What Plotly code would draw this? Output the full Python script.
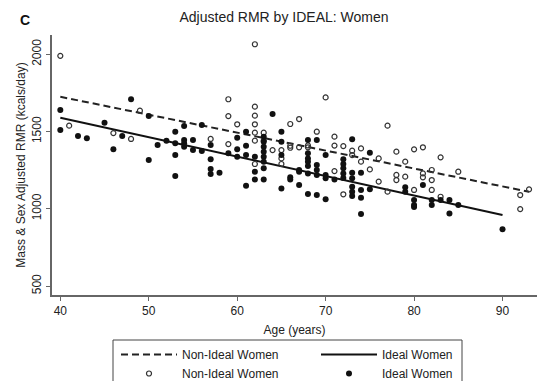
import plotly.graph_objects as go

# ---- data ----
nonideal_age = [40, 41, 46, 48, 49, 57, 59, 59, 59, 60,
                62, 62, 62, 62, 62, 62, 62, 63, 63, 64,
                65, 65, 65, 66, 66, 66, 67, 67, 68, 68,
                69, 70, 71, 71, 71, 72, 72, 73, 73, 74,
                74, 75, 76, 76, 77, 77, 78, 78, 78, 79,
                79, 80, 80, 81, 81, 81, 82, 82, 82, 83,
                83, 85, 92, 92, 93]
nonideal_rmr = [1990, 1538, 1490, 1452, 1635, 1452, 1709, 1600, 1419, 1547,
                2065, 1661, 1603, 1547, 1493, 1441, 1290, 1493, 1441, 1380,
                1380, 1326, 1290, 1549, 1395, 1408, 1581, 1398, 1398, 1410,
                1499, 1721, 1467, 1409, 1244, 1406, 1094, 1376, 1348, 1391,
                1305, 1255, 1326, 1176, 1538, 1111, 1370, 1219, 1186, 1305,
                1208, 1385, 1122, 1398, 1229, 1204, 1251, 1186, 1122, 1333,
                1078, 1240, 1089, 998, 1126]

ideal_age = [40, 40, 42, 43, 45, 46, 47, 48, 50, 50,
             51, 52, 53, 53, 53, 53, 54, 54, 54, 54,
             55, 55, 56, 56, 57, 57, 57, 57, 58, 59,
             60, 60, 60, 61, 61, 61, 61, 62, 62, 62,
             63, 63, 63, 63, 63, 63, 63, 63, 64, 65,
             65, 65, 65, 66, 66, 67, 67, 67, 68, 68,
             68, 68, 68, 68, 68, 69, 69, 69, 69, 69,
             70, 70, 70, 70, 71, 72, 72, 72, 72, 72,
             73, 73, 73, 73, 73, 73, 74, 74, 74, 74,
             75, 75, 79, 79, 80, 80, 80, 81, 82, 82,
             83, 84, 84, 85, 90]
ideal_rmr = [1639, 1510, 1471, 1456, 1557, 1385, 1471, 1709, 1600, 1316,
             1413, 1441, 1499, 1424, 1348, 1212, 1536, 1445, 1424, 1402,
             1445, 1380, 1542, 1374, 1413, 1320, 1258, 1226, 1234, 1359,
             1460, 1385, 1337, 1499, 1408, 1348, 1149, 1337, 1240, 1190,
             1467, 1434, 1402, 1370, 1337, 1305, 1262, 1190, 1613, 1499,
             1434, 1348, 1132, 1204, 1190, 1251, 1240, 1154, 1445, 1359,
             1326, 1305, 1277, 1229, 1096, 1445, 1283, 1251, 1218, 1089,
             1348, 1218, 1197, 1061, 1190, 1320, 1290, 1262, 1229, 1200,
             1450, 1234, 1197, 1143, 1111, 1083, 1234, 1122, 1072, 966,
             1363, 1126, 1139, 1111, 1057, 1024, 1011, 1154, 1057, 1024,
             1057, 1057, 970, 1024, 867]

# fitted lines (end points)
nonideal_fit_age = [40, 93]
nonideal_fit_rmr = [1725, 1110]
ideal_fit_age = [40, 90]
ideal_fit_rmr = [1590, 960]

x_ticks = [40, 50, 60, 70, 80, 90]
y_ticks = [500, 1000, 1500, 2000]

FONT = "Liberation Sans, Arial, Helvetica, sans-serif"
AXC = "#666666"

# plot-area geometry in pixels (for placing decorations)
L, R, T, B = 52, 5, 35, 86
W, H = 542, 381
PW, PH = W - L - R, H - T - B


def px_x(px):
    return (px - L) / PW


def px_y(py):
    return (H - B - py) / PH


fig = go.Figure()
fig.add_trace(go.Scatter(x=nonideal_fit_age, y=nonideal_fit_rmr, mode="lines",
                         name="Non-Ideal Women",
                         line=dict(color="#222222", width=2, dash="7px,4px")))
fig.add_trace(go.Scatter(x=ideal_fit_age, y=ideal_fit_rmr, mode="lines",
                         name="Ideal Women",
                         line=dict(color="#111111", width=2)))
fig.add_trace(go.Scatter(x=nonideal_age, y=nonideal_rmr, mode="markers",
                         name="Non-Ideal Women",
                         marker=dict(symbol="circle-open", size=5, color="#333333",
                                     line=dict(width=1.2, color="#333333"))))
fig.add_trace(go.Scatter(x=ideal_age, y=ideal_rmr, mode="markers",
                         name="Ideal Women",
                         marker=dict(symbol="circle", size=6, color="#111111")))

fig.update_layout(
    width=W, height=H,
    margin=dict(l=L, r=R, t=T, b=B, autoexpand=False),
    paper_bgcolor="white", plot_bgcolor="white",
    font=dict(family=FONT, size=12, color="#222222"),
    title=dict(text="Adjusted RMR by IDEAL: Women", x=284 / W, xanchor="center",
               y=1 - 17 / H, yanchor="middle", xref="container", yref="container",
               font=dict(size=14, color="#222222")),
    showlegend=True,
    legend=dict(orientation="h", x=px_x(116), xanchor="left", y=px_y(340), yanchor="top",
                bgcolor="rgba(0,0,0,0)", borderwidth=0, entrywidth=129,
                entrywidthmode="pixels", itemwidth=56,
                font=dict(size=12, color="#222222"), traceorder="normal"),
    annotations=[dict(text="<b>C</b>", x=px_x(25), y=px_y(20), xref="paper", yref="paper",
                      showarrow=False, xanchor="center", yanchor="middle",
                      font=dict(size=14, color="#111111"))],
    shapes=[dict(type="rect", xref="paper", yref="paper",
                 x0=px_x(113), x1=px_x(462), y0=px_y(395), y1=px_y(340),
                 line=dict(color="#444444", width=1), fillcolor="rgba(0,0,0,0)",
                 layer="above")],
)

fig.update_xaxes(range=[39.06, 93.9], tickvals=x_ticks, ticks="outside", ticklen=4,
                 tickcolor=AXC, showline=True, linecolor=AXC, linewidth=1.5,
                 showgrid=False, zeroline=False, tickfont=dict(size=12), automargin=False,
                 title=dict(text="Age (years)", standoff=8, font=dict(size=12)))
fig.update_yaxes(range=[442, 2125], tickvals=y_ticks, ticks="outside", ticklen=4,
                 tickcolor=AXC, showline=True, linecolor=AXC, linewidth=1.5,
                 showgrid=False, zeroline=False, tickangle=-90, tickfont=dict(size=12),
                 automargin=False,
                 title=dict(text="Mass & Sex Adjusted RMR (kcals/day)", standoff=2,
                            font=dict(size=12)))

fig.write_html("out.html", config={"displayModeBar": False},
               post_script="document.body.style.margin='0px';document.body.style.padding='0px';")
